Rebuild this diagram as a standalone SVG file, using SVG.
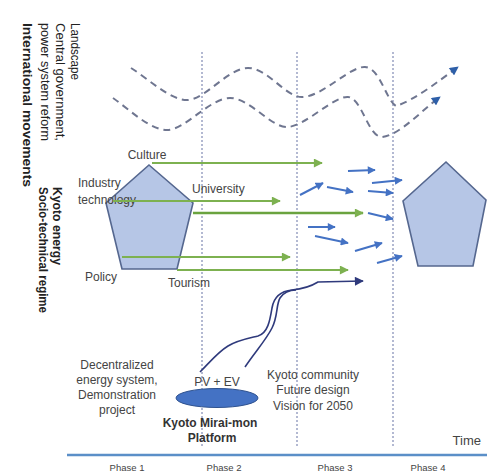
<svg xmlns="http://www.w3.org/2000/svg" width="487" height="473" viewBox="0 0 487 473">
<defs>
<style>
text{font-family:"Liberation Sans",Arial,sans-serif;fill:#444}
.lbl{font-size:12px}
.side{font-size:12px;fill:#222}
.sideb{font-size:12px;font-weight:bold;fill:#222}
.ph{font-size:9.5px;fill:#444}
.guide{stroke:#9aa2c4;stroke-width:1.5;stroke-dasharray:2,2;fill:none}
.wave{stroke:#6f7690;stroke-width:2;stroke-dasharray:7,5;fill:none;marker-end:url(#dashHead)}
.green{stroke:#7db150;stroke-width:2;fill:none;marker-end:url(#greenHead)}
.blue{stroke:#4472c4;stroke-width:2;fill:none;marker-end:url(#blueHead)}
.navy{stroke:#2f3a7c;stroke-width:1.6;fill:none}
.pent{fill:#b6c6e6;stroke:#55678f;stroke-width:1.6}
</style>
<marker id="greenHead" viewBox="0 0 10 10" refX="9" refY="5" markerWidth="10" markerHeight="9" markerUnits="userSpaceOnUse" orient="auto"><path d="M0,0 L10,5 L0,10 z" fill="#7db150"/></marker>
<marker id="blueHead" viewBox="0 0 10 10" refX="9" refY="5" markerWidth="9" markerHeight="8" markerUnits="userSpaceOnUse" orient="auto"><path d="M0,0 L10,5 L0,10 z" fill="#4472c4"/></marker>
<marker id="navyHead" viewBox="0 0 10 10" refX="9" refY="5" markerWidth="10" markerHeight="9" markerUnits="userSpaceOnUse" orient="auto"><path d="M0,0 L10,5 L0,10 z" fill="#2f3a7c"/></marker>
<marker id="dashHead" viewBox="0 0 10 10" refX="9" refY="5" markerWidth="10" markerHeight="9" markerUnits="userSpaceOnUse" orient="auto"><path d="M0,0 L10,5 L0,10 z" fill="#2e5fa8"/></marker>
</defs>
<rect width="487" height="473" fill="#ffffff"/>

<g id="guides">
<line class="guide" x1="202" y1="52" x2="202" y2="447"/>
<line class="guide" x1="297" y1="52" x2="297" y2="447"/>
<line class="guide" x1="393" y1="52" x2="393" y2="447"/>
</g>

<g id="side-labels">
<text class="side" transform="translate(71,23) rotate(90)" textLength="57" lengthAdjust="spacingAndGlyphs">Landscape</text>
<text class="side" transform="translate(56,23) rotate(90)" textLength="118" lengthAdjust="spacingAndGlyphs">Central government,</text>
<text class="side" transform="translate(41,23) rotate(90)" textLength="118" lengthAdjust="spacingAndGlyphs">power system reform</text>
<text class="sideb" style="font-size:13px" transform="translate(23,23) rotate(90)" textLength="164" lengthAdjust="spacingAndGlyphs">International movements</text>
<text class="sideb" transform="translate(53,187) rotate(90)" textLength="78" lengthAdjust="spacingAndGlyphs">Kyoto energy</text>
<text class="sideb" transform="translate(39,187) rotate(90)" textLength="126" lengthAdjust="spacingAndGlyphs">Socio-technical regime</text>
</g>

<g id="current-regime">
<polygon class="pent" points="149,165 193,203 177,269 122,269 106,203"/>
<text class="lbl" x="147" y="159" text-anchor="middle">Culture</text>
<text class="lbl" x="78" y="187">Industry</text>
<text class="lbl" x="78" y="204">technology</text>
<text class="lbl" x="192" y="193">University</text>
<text class="lbl" x="85" y="281">Policy</text>
<text class="lbl" x="168" y="287">Tourism</text>
</g>

<g id="future-regime">
<polygon class="pent" points="446,162 486,200 473,266 418,266 403,201"/>
</g>

<g id="platform">
<ellipse cx="217" cy="398" rx="41" ry="9.5" fill="#4472c4" stroke="#2f528f" stroke-width="1"/>
<text class="lbl" x="217" y="386" text-anchor="middle">PV + EV</text>
<text class="lbl" x="210" y="427" text-anchor="middle" style="font-weight:bold;fill:#333">Kyoto Mirai-mon</text>
<text class="lbl" x="212" y="442" text-anchor="middle" style="font-weight:bold;fill:#333">Platform</text>
</g>

<g id="niche-left">
<text class="lbl" x="117" y="369" text-anchor="middle">Decentralized</text>
<text class="lbl" x="117" y="384" text-anchor="middle">energy system,</text>
<text class="lbl" x="117" y="399" text-anchor="middle">Demonstration</text>
<text class="lbl" x="117" y="414" text-anchor="middle">project</text>
</g>

<g id="niche-right">
<text class="lbl" x="313" y="379" text-anchor="middle">Kyoto community</text>
<text class="lbl" x="313" y="394" text-anchor="middle">Future design</text>
<text class="lbl" x="313" y="410" text-anchor="middle">Vision for 2050</text>
</g>

<g id="time-axis">
<line x1="67" y1="455" x2="487" y2="455" stroke="#5b8fc8" stroke-width="2.5"/>
<text x="481" y="445" text-anchor="end" style="font-size:13px">Time</text>
<text class="ph" x="127" y="471" text-anchor="middle">Phase 1</text>
<text class="ph" x="224" y="471" text-anchor="middle">Phase 2</text>
<text class="ph" x="335" y="471" text-anchor="middle">Phase 3</text>
<text class="ph" x="428" y="471" text-anchor="middle">Phase 4</text>
</g>

<g id="connectors">
<path class="wave" d="M131,68 C150,80 170,100 187,100 C205,100 228,68 248,68 C268,68 285,97 302,97 C322,97 350,66 365,67 C380,68 386,100 396,106 C415,100 440,80 458,67"/>
<path class="wave" d="M113,98 C130,110 150,130 167,130 C185,130 210,98 230,98 C250,98 270,127 287,127 C305,127 333,96 348,97 C362,98 368,137 382,137 C400,135 422,110 440,97"/>

<line class="green" x1="152" y1="163" x2="322" y2="163"/>
<line class="green" x1="113" y1="201" x2="280" y2="201"/>
<line class="green" x1="193" y1="213" x2="363" y2="213" style="stroke:#6aa33f;stroke-width:2.5"/>
<line class="green" x1="122" y1="257" x2="290" y2="257"/>
<line class="green" x1="177" y1="270" x2="348" y2="270"/>

<line class="blue" x1="348" y1="171" x2="375" y2="170"/>
<line class="blue" x1="300" y1="195" x2="323" y2="183"/>
<line class="blue" x1="327" y1="187" x2="353" y2="192"/>
<line class="blue" x1="372" y1="183" x2="402" y2="180"/>
<line class="blue" x1="368" y1="191" x2="393" y2="193"/>
<line class="blue" x1="368" y1="213" x2="393" y2="219"/>
<line class="blue" x1="308" y1="227" x2="335" y2="227"/>
<line class="blue" x1="315" y1="236" x2="348" y2="243"/>
<line class="blue" x1="355" y1="251" x2="382" y2="243"/>
<line class="blue" x1="377" y1="263" x2="402" y2="256"/>

<path class="navy" d="M200,372 C210,362 218,352 228,346 C238,340 250,338 258,336 C268,333 270,320 272,308 C274,296 282,291 292,290 C302,289 310,287 318,282 L363,281" marker-end="url(#navyHead)"/>
<path class="navy" d="M245,367 C255,352 266,340 272,328 C278,316 276,305 280,298 C284,292 290,290 296,290"/>
</g>
</svg>
